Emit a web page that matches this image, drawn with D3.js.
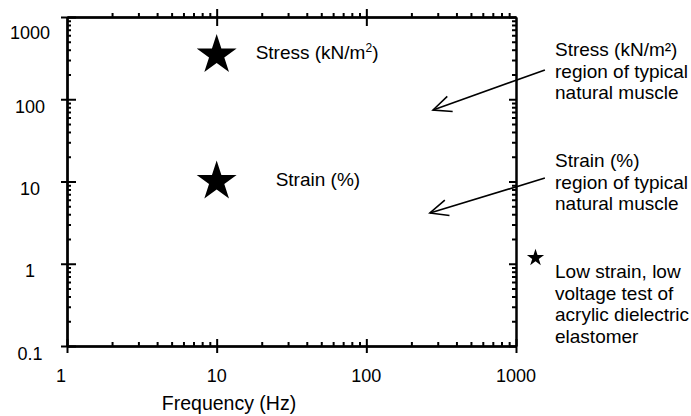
<!DOCTYPE html>
<html>
<head>
<meta charset="utf-8">
<script src="https://cdn.jsdelivr.net/npm/d3@7"></script>
<style>
  body { margin: 0; background: #fff; }
  svg { display: block; font-family: 'Liberation Sans', Arial, sans-serif; }
  .axis path, .axis line { stroke: #000; stroke-width: 2; }
  .axis text { display: none; }
</style>
</head>
<body>
<svg id="graph" width="691" height="416"></svg>
<script>
// chart values
var xMajor = [1, 10, 100, 1000];
var xTickLabels = ['1', '10', '100', '1000'];
var yMajor = [0.1, 1, 10, 100, 1000];
var yTickLabels = ['0.1', '1', '10', '100', '1000'];

// big stars: stress and strain of the actuator
var starFreq = [10, 10];
var starValue = [345, 10];
var starLabels = ['Stress (kN/m', 'Strain (%)'];
var starLabelSup = ['2', ''];

// small star: low strain, low voltage test
var testFreq = [1350];
var testValue = [1.18];

// arrows toward the natural muscle regions [freq, value]
var arrowFrom = [[1560, 227], [1560, 11]];
var arrowTo = [[279, 74], [266, 4.14]];

var noteStress = ['Stress (kN/m²)', 'region of typical', 'natural muscle'];
var noteStrain = ['Strain (%)', 'region of typical', 'natural muscle'];
var noteTest = ['Low strain, low', 'voltage test of', 'acrylic dielectric', 'elastomer'];

/*******************************************************************************************/

var svg = d3.select('#graph');
var xScale = d3.scaleLog().domain([1, 1000]).range([67, 516]);
var yScale = d3.scaleLog().domain([0.1, 1000]).range([346, 17]);

function minors(lo, hi){
  var out = [];
  for (var d = lo; d < hi; d *= 10)
    for (var k = 2; k <= 9; k++) out.push(d * k);
  return out;
}
var xMinor = minors(1, 1000), yMinor = minors(0.1, 1000);

var x0 = xScale(1), x1 = xScale(1000), y0 = yScale(0.1), y1 = yScale(1000);

// bottom
svg.append('g').attr('class', 'axis').attr('transform', 'translate(0,' + y0 + ')')
   .call(d3.axisBottom(xScale).tickValues(xMinor).tickSize(-4).tickSizeOuter(0));
svg.append('g').attr('class', 'axis').attr('transform', 'translate(0,' + y0 + ')')
   .call(d3.axisBottom(xScale).tickValues(xMajor).tickSize(7).tickSizeOuter(0));
svg.append('g').attr('class', 'axis').attr('transform', 'translate(0,' + y0 + ')')
   .call(d3.axisBottom(xScale).tickValues(xMajor).tickSize(-7).tickSizeOuter(0));
// top
svg.append('g').attr('class', 'axis').attr('transform', 'translate(0,' + y1 + ')')
   .call(d3.axisTop(xScale).tickValues(xMinor).tickSize(4).tickSizeOuter(0));
svg.append('g').attr('class', 'axis').attr('transform', 'translate(0,' + y1 + ')')
   .call(d3.axisTop(xScale).tickValues(xMajor.slice(1, 3)).tickSize(8).tickSizeOuter(0));
svg.append('g').attr('class', 'axis').attr('transform', 'translate(0,' + y1 + ')')
   .call(d3.axisTop(xScale).tickValues(xMajor.slice(1, 3)).tickSize(-9).tickSizeOuter(0));
// left
svg.append('g').attr('class', 'axis').attr('transform', 'translate(' + x0 + ',0)')
   .call(d3.axisLeft(yScale).tickValues(yMinor).tickSize(-4).tickSizeOuter(0));
svg.append('g').attr('class', 'axis').attr('transform', 'translate(' + x0 + ',0)')
   .call(d3.axisLeft(yScale).tickValues(yMajor).tickSize(6).tickSizeOuter(0));
svg.append('g').attr('class', 'axis').attr('transform', 'translate(' + x0 + ',0)')
   .call(d3.axisLeft(yScale).tickValues(yMajor).tickSize(-9).tickSizeOuter(0));
// right
svg.append('g').attr('class', 'axis').attr('transform', 'translate(' + x1 + ',0)')
   .call(d3.axisRight(yScale).tickValues(yMinor).tickSize(-4).tickSizeOuter(0));
svg.append('g').attr('class', 'axis').attr('transform', 'translate(' + x1 + ',0)')
   .call(d3.axisRight(yScale).tickValues(yMajor).tickSize(-7).tickSizeOuter(0));

// tick labels
svg.selectAll('.xlab').data(xMajor).enter().append('text').attr('class', 'xlab')
   .attr('x', function(d, i){ return xScale(d) + (i === 0 ? -6 : 0); })
   .attr('y', y0 + 36)
   .attr('text-anchor', 'middle').style('font-size', '18px')
   .text(function(d, i){ return xTickLabels[i]; });

svg.selectAll('.ylab').data(yMajor).enter().append('text').attr('class', 'ylab')
   .attr('x', 30)
   .attr('y', function(d){ return yScale(d) + (d === 1000 ? 22 : 13.5); })
   .attr('text-anchor', 'middle').style('font-size', '18px')
   .text(function(d, i){ return yTickLabels[i]; });

svg.append('text').attr('x', 229).attr('y', 410).attr('text-anchor', 'middle')
   .style('font-size', '19.5px').text('Frequency (Hz)');

/*******************************************************************************************/
// stars

var bigStar = d3.symbol().type(d3.symbolStar).size(495);
svg.selectAll('.bigstar').data(starFreq).enter().append('path').attr('class', 'bigstar')
   .attr('d', bigStar)
   .attr('transform', function(d, i){ return 'translate(' + xScale(d) + ',' + yScale(starValue[i]) + ')'; })
   .style('fill', '#000');

var starText = svg.selectAll('.startext').data(starFreq).enter().append('text').attr('class', 'startext')
   .attr('x', function(d, i){ return xScale(d) + (i === 0 ? 39 : 59); })
   .attr('y', function(d, i){ return yScale(starValue[i]) + 4; })
   .style('font-size', '19px');
starText.append('tspan').text(function(d, i){ return starLabels[i]; });
starText.append('tspan').attr('dy', -7).style('font-size', '12px').text(function(d, i){ return starLabelSup[i]; });
starText.append('tspan').attr('dy', 7).text(function(d, i){ return i === 0 ? ')' : ''; });

var smallStar = d3.symbol().type(d3.symbolStar).size(92);
svg.selectAll('.smallstar').data(testFreq).enter().append('path').attr('class', 'smallstar')
   .attr('d', smallStar)
   .attr('transform', function(d, i){ return 'translate(' + xScale(d) + ',' + yScale(testValue[i]) + ')'; })
   .style('fill', '#000');

/*******************************************************************************************/
// arrows

svg.append('defs').append('marker').attr('id', 'vhead')
   .attr('viewBox', '-20 -10 22 20').attr('markerUnits', 'userSpaceOnUse')
   .attr('markerWidth', 22).attr('markerHeight', 20).attr('refX', 0).attr('refY', 0)
   .attr('orient', 'auto')
   .append('path').attr('d', 'M-18,-8L0,0L-18,8')
   .style('fill', 'none').style('stroke', '#000').style('stroke-width', 1.6);

svg.selectAll('.arrow').data(arrowFrom).enter().append('line').attr('class', 'arrow')
   .attr('x1', function(d){ return xScale(d[0]); })
   .attr('y1', function(d){ return yScale(d[1]); })
   .attr('x2', function(d, i){ return xScale(arrowTo[i][0]); })
   .attr('y2', function(d, i){ return yScale(arrowTo[i][1]); })
   .attr('marker-end', 'url(#vhead)')
   .style('stroke', '#000').style('stroke-width', 1.6);

/*******************************************************************************************/
// notes on the right

function note(lines, y){
  var t = svg.append('text').style('font-size', '19px');
  lines.forEach(function(s, i){
    t.append('tspan').attr('x', 555).attr('y', y + i * 21.5).text(s);
  });
}
note(noteStress, 56);
note(noteStrain, 167);
note(noteTest, 278);
</script>
</body>
</html>
